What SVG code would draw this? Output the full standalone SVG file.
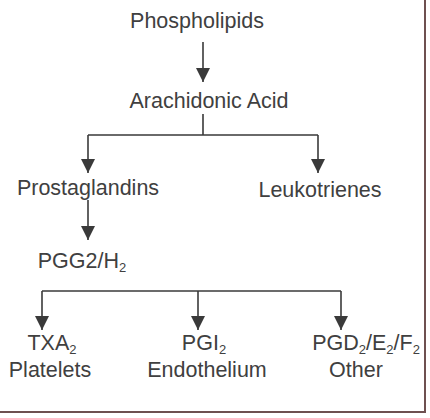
<svg xmlns="http://www.w3.org/2000/svg" width="430" height="418" viewBox="0 0 430 418">
<defs>
<marker id="ah" viewBox="0 0 14 14" refX="14" refY="7" markerWidth="14" markerHeight="14" markerUnits="userSpaceOnUse" orient="auto">
<path d="M0,0 L14,7 L0,14 Z" fill="#3a3a3a"/>
</marker>
<style>
text{font-family:"Liberation Sans",Arial,sans-serif;font-size:21.5px;fill:#404040;text-anchor:middle}
.sub{font-size:13px}
.ln{stroke:#3a3a3a;stroke-width:1.6;fill:none}
.ar{stroke:#3a3a3a;stroke-width:1.6;fill:none;marker-end:url(#ah)}
</style>
</defs>
<rect width="430" height="418" fill="#ffffff"/>
<path d="M425,0 V412 H0" fill="none" stroke="#6e5050" stroke-width="2"/>
<g id="connectors">
<line class="ar" x1="203" y1="42" x2="203" y2="82"/>
<path class="ln" d="M203,114 V135 M88,135 H318"/>
<line class="ar" x1="88" y1="135" x2="88" y2="173"/>
<line class="ar" x1="318" y1="135" x2="318" y2="173"/>
<line class="ar" x1="88" y1="200" x2="88" y2="240"/>
<path class="ln" d="M42,291 H341"/>
<line class="ar" x1="42" y1="291" x2="42" y2="330"/>
<line class="ar" x1="198" y1="291" x2="198" y2="330"/>
<line class="ar" x1="341" y1="291" x2="341" y2="330"/>
</g>
<g id="phospholipids"><text x="197" y="28">Phospholipids</text></g>
<g id="arachidonic"><text x="209" y="108">Arachidonic Acid</text></g>
<g id="prostaglandins"><text x="88" y="195">Prostaglandins</text></g>
<g id="leukotrienes"><text x="320" y="197">Leukotrienes</text></g>
<g id="pgg2"><text x="82" y="268">PGG2/H<tspan class="sub" dy="4">2</tspan></text></g>
<g id="txa2"><text x="52" y="350">TXA<tspan class="sub" dy="4">2</tspan></text><text x="50" y="377">Platelets</text></g>
<g id="pgi2"><text x="204" y="350">PGI<tspan class="sub" dy="4">2</tspan></text><text x="207" y="377">Endothelium</text></g>
<g id="pgd2"><text x="366" y="350">PGD<tspan class="sub" dy="4">2</tspan><tspan dy="-4">/E</tspan><tspan class="sub" dy="4">2</tspan><tspan dy="-4">/F</tspan><tspan class="sub" dy="4">2</tspan></text><text x="356" y="377">Other</text></g>
</svg>
